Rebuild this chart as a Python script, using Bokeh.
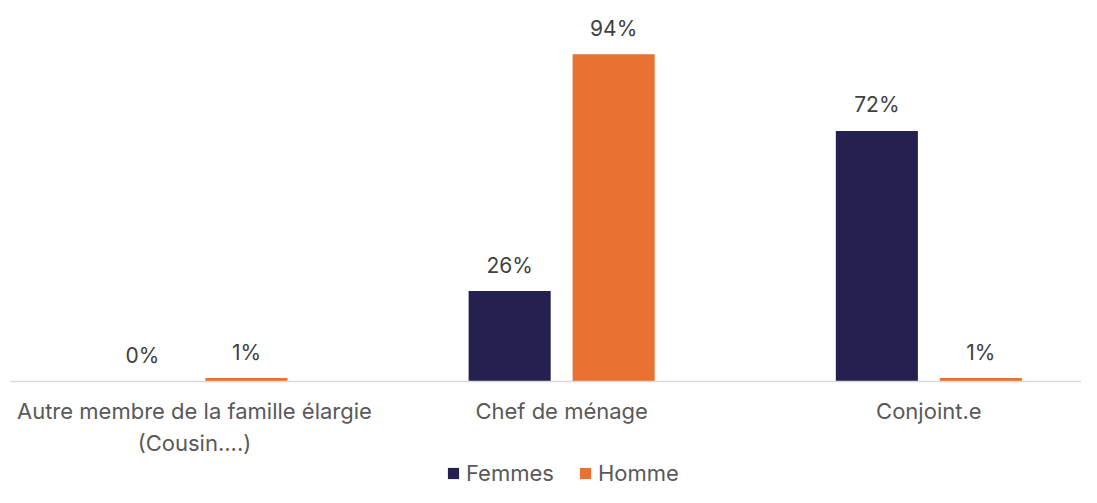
from bokeh.plotting import figure
from bokeh.models import Range1d, FixedTicker, ColumnDataSource, Legend, LegendItem
from bokeh.transform import dodge
from bokeh.core.properties import value
from bokeh.embed import file_html
from bokeh.resources import INLINE

# ---- data ----
categories = ["Autre membre de la famille élargie\n(Cousin....)", "Chef de ménage", "Conjoint.e"]
femmes = [0, 26, 72]
homme = [1, 94, 1]
series_names = ["Femmes", "Homme"]

FONT = "Inter"
NAVY = "#242050"
ORANGE = "#E97132"

idx = list(range(len(categories)))
src_f = ColumnDataSource(dict(x=idx, v=femmes, lab=[f"{v}%" for v in femmes]))
src_h = ColumnDataSource(dict(x=idx, v=homme, lab=[f"{v}%" for v in homme]))

p = figure(width=1081, height=487, output_backend="svg", toolbar_location=None,
           x_range=Range1d(-0.501, 2.4157), y_range=Range1d(-30.46, 109.48),
           y_axis_location=None, min_border_left=10, min_border_right=0,
           min_border_top=0, min_border_bottom=0)
p.outline_line_color = None
p.xgrid.visible = False
p.ygrid.visible = False

off = 0.1416
bw = 0.2235
rf = p.vbar(x=dodge("x", -off, range=p.x_range), top="v", bottom=0, width=bw, source=src_f,
            fill_color=NAVY, line_color=None)
rh = p.vbar(x=dodge("x", off, range=p.x_range), top="v", bottom=0, width=bw, source=src_h,
            fill_color=ORANGE, line_color=None)

for s, o in ((src_f, -off), (src_h, off)):
    p.text(x=dodge("x", o, range=p.x_range), y="v", text="lab", source=s,
           text_align="center", text_baseline="middle", y_offset=-26,
           text_font=value(FONT), text_font_size="21px", text_color="#404040")

ax = p.xaxis[0]
ax.fixed_location = 0
ax.ticker = FixedTicker(ticks=idx)
ax.major_label_overrides = {i: c for i, c in zip(idx, categories)}
ax.axis_line_color = "#D9D9D9"
ax.axis_line_width = 1.5
ax.major_tick_line_color = None
ax.minor_tick_line_color = None
ax.major_tick_out = 0
ax.major_label_standoff = 17
ax.major_label_text_font = FONT
ax.major_label_text_font_size = "22px"
ax.major_label_text_color = "#595959"

legend = Legend(items=[LegendItem(label=series_names[0], renderers=[rf]),
                       LegendItem(label=series_names[1], renderers=[rh])],
                orientation="horizontal", location=(436, 1),
                glyph_width=14, glyph_height=14, label_height=14,
                label_standoff=6, spacing=24, padding=0, margin=0,
                border_line_color=None, background_fill_alpha=0,
                label_text_font=FONT, label_text_font_size="22px",
                label_text_color="#595959")
p.add_layout(legend, "center")

open("out.html", "w").write(file_html(p, INLINE))
